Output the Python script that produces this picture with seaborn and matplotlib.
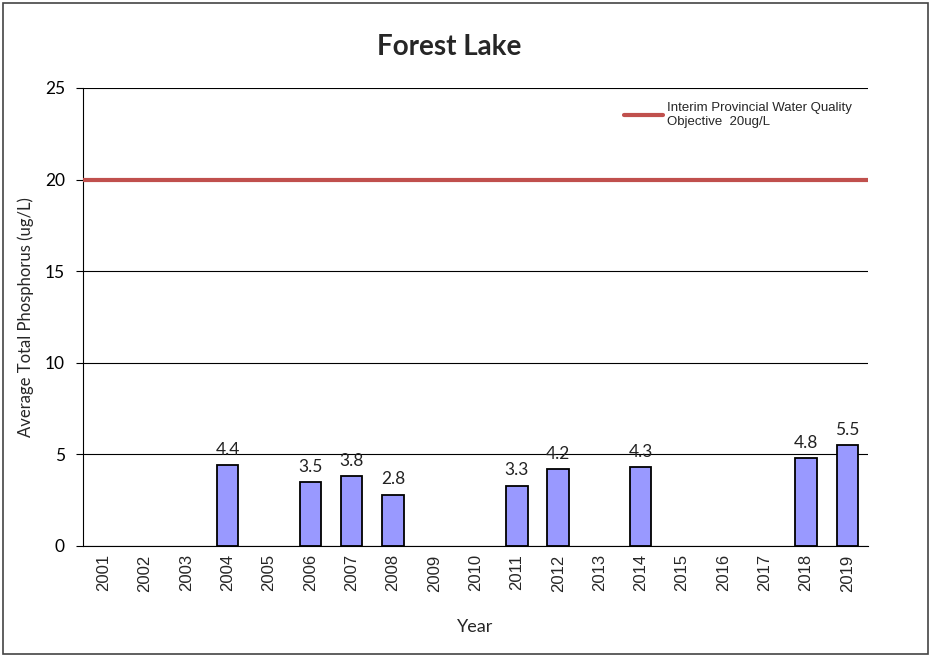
import numpy as np
import pandas as pd
import matplotlib
matplotlib.use("Agg")
import matplotlib.pyplot as plt
from matplotlib.patches import Rectangle
import seaborn as sns

years = [str(y) for y in range(2001, 2020)]
phosphorus = [np.nan, np.nan, np.nan, 4.4, np.nan, 3.5, 3.8, 2.8, np.nan, np.nan,
              3.3, 4.2, np.nan, 4.3, np.nan, np.nan, np.nan, 4.8, 5.5]
objective = 20
objective_label = "Interim Provincial Water Quality\nObjective  20ug/L"

sns.set_theme(style="white")
plt.rcParams["font.family"] = ["Lato", "DejaVu Sans"]

df = pd.DataFrame({"Year": years, "TP": phosphorus})

fig = plt.figure(figsize=(9.31, 6.56), dpi=100)
ax = fig.add_axes([0.0892, 0.1677, 0.8431, 0.6982])

sns.barplot(data=df, x="Year", y="TP", order=years, color="#9999FF",
            saturation=1, width=0.52, edgecolor="black", linewidth=1.3, ax=ax)

# value labels above bars
for i, v in enumerate(phosphorus):
    if not np.isnan(v):
        ax.text(i, v + 0.4, f"{v:.1f}", ha="center", va="bottom",
                fontsize=12.5, color="#222222")

ax.set_xlim(-0.5, len(years) - 0.5)
ax.set_ylim(0, 25)
ax.set_yticks([0, 5, 10, 15, 20, 25])
ax.yaxis.grid(True, color="black", linewidth=0.8)
ax.set_axisbelow(True)

line, = ax.plot([-0.5, len(years) - 0.5], [objective, objective],
                color="#C0504D", linewidth=3, label=objective_label, zorder=3)

for s in ["top", "right"]:
    ax.spines[s].set_visible(False)
ax.spines["left"].set_color("black")
ax.spines["left"].set_linewidth(0.8)
ax.spines["bottom"].set_color("black")
ax.spines["bottom"].set_linewidth(0.8)

ax.tick_params(axis="y", which="major", left=True, length=5, width=0.8,
               labelsize=12.5, colors="black", pad=8)
ax.tick_params(axis="x", bottom=False, length=0, labelsize=12, pad=6)
for lbl in ax.get_xticklabels():
    lbl.set_rotation(90)
    lbl.set_fontfamily("Liberation Sans")

ax.set_xlabel("Year", fontsize=13, labelpad=20)
ax.set_ylabel("Average Total Phosphorus (ug/L)", fontsize=12, labelpad=8)

fig.suptitle("Forest Lake", x=0.483, y=0.948, fontsize=20, fontweight="bold")

leg = ax.legend(handles=[line], loc="upper right", bbox_to_anchor=(0.995, 0.995),
                frameon=False, prop={"family": "Liberation Sans", "size": 9.5},
                handlelength=3.0, handletextpad=0.3)

# thin frame round the whole picture
fig.patches.append(Rectangle((0.003, 0.003), 0.994, 0.993, transform=fig.transFigure,
                             fill=False, edgecolor="#444444", linewidth=1.2))

fig.savefig("out.png", dpi=100)
